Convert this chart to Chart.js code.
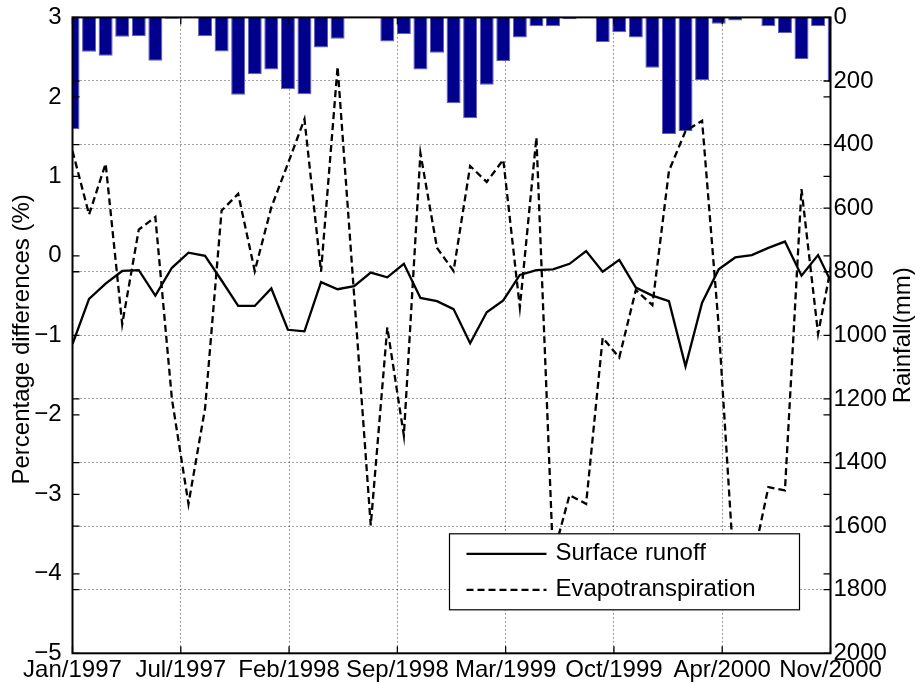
<!DOCTYPE html>
<html>
<head>
<meta charset="utf-8">
<script src="https://cdn.jsdelivr.net/npm/chart.js@4.4.1/dist/chart.umd.min.js"></script>
<style>
  html, body { margin: 0; padding: 0; background: #fff; }
  canvas { display: block; }
</style>
</head>
<body>
<canvas id="chart" width="915" height="685"></canvas>
<script>
// Monthly series, Jan/1997 .. Nov/2000 (x = month index)
const months = [
  'Jan/1997','Feb/1997','Mar/1997','Apr/1997','May/1997','Jun/1997','Jul/1997','Aug/1997','Sep/1997','Oct/1997','Nov/1997','Dec/1997',
  'Jan/1998','Feb/1998','Mar/1998','Apr/1998','May/1998','Jun/1998','Jul/1998','Aug/1998','Sep/1998','Oct/1998','Nov/1998','Dec/1998',
  'Jan/1999','Feb/1999','Mar/1999','Apr/1999','May/1999','Jun/1999','Jul/1999','Aug/1999','Sep/1999','Oct/1999','Nov/1999','Dec/1999',
  'Jan/2000','Feb/2000','Mar/2000','Apr/2000','May/2000','Jun/2000','Jul/2000','Aug/2000','Sep/2000','Oct/2000','Nov/2000'
];

// Monthly rainfall (mm), right axis
const rainfall = [
  352, 108, 121, 61, 59, 136, 4, 0, 59, 107, 243, 179,
  164, 226, 242, 95, 67, 0, 0, 76, 52, 164, 111, 270,
  317, 212, 137, 63, 28, 28, 6, 0, 77, 47, 63, 158,
  367, 357, 197, 20, 10, 0, 28, 49, 131, 28, 203
];

// Percentage differences (%), left axis
const surfaceRunoff = [
  -1.11, -0.54, -0.35, -0.19, -0.18, -0.50, -0.15, 0.04, 0.00, -0.31, -0.63, -0.63,
  -0.41, -0.93, -0.95, -0.33, -0.42, -0.38, -0.21, -0.27, -0.10, -0.53, -0.57, -0.67,
  -1.10, -0.71, -0.56, -0.24, -0.18, -0.17, -0.10, 0.06, -0.20, -0.05, -0.40, -0.50,
  -0.57, -1.39, -0.59, -0.17, -0.02, 0.01, 0.10, 0.18, -0.25, 0.01, -0.42
];

const evapotranspiration = [
  1.32, 0.52, 1.16, -0.86, 0.33, 0.49, -1.80, -3.12, -1.92, 0.57, 0.78, -0.19,
  0.61, 1.16, 1.72, -0.20, 2.38, -0.50, -3.39, -0.90, -2.26, 1.29, 0.10, -0.19,
  1.13, 0.93, 1.21, -0.65, 1.49, -3.78, -3.01, -3.12, -1.03, -1.28, -0.43, -0.62,
  1.07, 1.57, 1.70, -0.88, -4.20, -3.90, -2.91, -2.95, 0.84, -0.98, 0.10
];

// Date ticks, evenly spaced over the time axis
const xTickLabels = ['Jan/1997', 'Jul/1997', 'Feb/1998', 'Sep/1998', 'Mar/1999', 'Oct/1999', 'Apr/2000', 'Nov/2000'];
const xEnd = 45.75; // axis end, in months after Jan/1997

const leftTitle = 'Percentage differences (%)';
const rightTitle = 'Rainfall(mm)';

const FONT = "'Liberation Sans', Arial, Helvetica, sans-serif";
Chart.defaults.font.family = FONT;
Chart.defaults.font.size = 24;
Chart.defaults.color = '#000';

const GRID = 'rgba(0,0,0,0.75)';
const TICK_LEN = 7;

function toMinus(v) {
  return v < 0 ? '\u2212' + Math.abs(v) : String(v);
}

// Frame, inward tick marks on all four sides, axis titles and the legend box
const axisDecor = {
  id: 'axisDecor',
  afterDatasetsDraw(chart) {
    const { ctx, chartArea: a, scales } = chart;
    ctx.save();
    ctx.strokeStyle = '#000';
    ctx.lineWidth = 1.3;
    ctx.beginPath();
    scales.x.ticks.forEach(t => {
      const px = scales.x.getPixelForValue(t.value);
      ctx.moveTo(px, a.bottom); ctx.lineTo(px, a.bottom - TICK_LEN);
      ctx.moveTo(px, a.top); ctx.lineTo(px, a.top + TICK_LEN);
    });
    [scales.y, scales.yR].forEach(s => {
      s.ticks.forEach(t => {
        const py = s.getPixelForValue(t.value);
        ctx.moveTo(a.left, py); ctx.lineTo(a.left + TICK_LEN, py);
        ctx.moveTo(a.right, py); ctx.lineTo(a.right - TICK_LEN, py);
      });
    });
    ctx.stroke();
    ctx.lineWidth = 2;
    ctx.strokeRect(a.left, a.top, a.right - a.left, a.bottom - a.top);
    ctx.restore();
  },
  afterDraw(chart) {
    const { ctx, chartArea: a } = chart;
    ctx.save();
    ctx.fillStyle = '#000';
    ctx.font = '24px ' + FONT;
    ctx.textAlign = 'center';
    ctx.textBaseline = 'middle';
    // axis titles, both reading bottom-to-top
    ctx.save();
    ctx.translate(22, (a.top + a.bottom) / 2 + 4);
    ctx.rotate(-Math.PI / 2);
    ctx.fillText(leftTitle, 0, 0);
    ctx.restore();
    ctx.save();
    ctx.translate(903, (a.top + a.bottom) / 2);
    ctx.rotate(-Math.PI / 2);
    ctx.fillText(rightTitle, 0, 0);
    ctx.restore();

    // legend inside the plot, lower right
    const bw = 350, bh = 76;
    const bx = a.right - 31 - bw, by = a.bottom - 43.5 - bh;
    ctx.fillStyle = '#fff';
    ctx.fillRect(bx, by, bw, bh);
    ctx.strokeStyle = '#000';
    ctx.lineWidth = 1.2;
    ctx.strokeRect(bx, by, bw, bh);
    const lineSets = chart.data.datasets.filter(d => d.type === 'line');
    lineSets.forEach((d, i) => {
      const ly = by + 20 + i * 36;
      ctx.beginPath();
      ctx.setLineDash(d.borderDash || []);
      ctx.lineWidth = d.borderWidth;
      ctx.strokeStyle = d.borderColor;
      ctx.moveTo(bx + 17, ly);
      ctx.lineTo(bx + 97, ly);
      ctx.stroke();
      ctx.setLineDash([]);
      ctx.fillStyle = '#000';
      ctx.textAlign = 'left';
      ctx.fillText(d.label, bx + 106, ly);
    });
    ctx.restore();
  }
};

new Chart(document.getElementById('chart'), {
  type: 'bar',
  data: {
    datasets: [
      {
        type: 'line',
        label: 'Surface runoff',
        data: months.map((m, i) => ({ x: i, y: surfaceRunoff[i] })),
        yAxisID: 'y',
        borderColor: '#000',
        borderWidth: 2.3,
        pointRadius: 0,
        tension: 0,
        order: 1
      },
      {
        type: 'line',
        label: 'Evapotranspiration',
        data: months.map((m, i) => ({ x: i, y: evapotranspiration[i] })),
        yAxisID: 'y',
        borderColor: '#000',
        borderWidth: 2.3,
        borderDash: [7, 4],
        pointRadius: 0,
        tension: 0,
        order: 1
      },
      {
        type: 'bar',
        label: 'Rainfall',
        data: months.map((m, i) => ({ x: i, y: rainfall[i] })),
        yAxisID: 'yR',
        backgroundColor: 'rgb(0,0,140)',
        borderColor: 'rgb(95,95,190)',
        borderWidth: 1,
        categoryPercentage: 1,
        barPercentage: 0.845,
        order: 2
      }
    ]
  },
  options: {
    responsive: false,
    animation: false,
    devicePixelRatio: 1,
    layout: { padding: { top: 15.5, left: 0, right: 0, bottom: 0 } },
    plugins: {
      legend: { display: false },
      tooltip: { enabled: false }
    },
    scales: {
      x: {
        type: 'linear',
        position: 'bottom',
        min: 0,
        max: xEnd,
        offset: false,
        grid: { display: true, drawTicks: false, offset: false, color: GRID, lineWidth: 1 },
        border: { display: false, dash: [1, 3] },
        ticks: {
          autoSkip: false,
          maxRotation: 0,
          minRotation: 0,
          padding: 3,
          callback: (v, i) => xTickLabels[i]
        },
        afterBuildTicks: s => {
          const n = xTickLabels.length;
          s.ticks = xTickLabels.map((_, i) => ({ value: i * xEnd / (n - 1) }));
        },
        afterFit: s => { s.height = 685 - 653.3; }
      },
      y: {
        position: 'left',
        min: -5,
        max: 3,
        ticks: { stepSize: 1, padding: 3, callback: v => toMinus(v) },
        grid: { display: false },
        border: { display: false },
        afterFit: s => { s.width = 72.5; }
      },
      yR: {
        position: 'right',
        reverse: true,
        min: 0,
        max: 2000,
        ticks: { stepSize: 200, padding: 3, callback: v => String(v) },
        grid: { display: true, drawTicks: false, color: GRID, lineWidth: 1 },
        border: { display: false, dash: [1, 3] },
        afterFit: s => { s.width = 915 - 830.5; }
      }
    }
  },
  plugins: [axisDecor]
});
</script>
</body>
</html>
